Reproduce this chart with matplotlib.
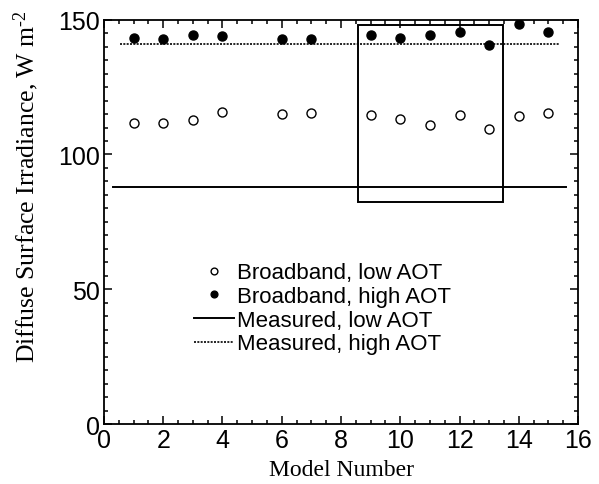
import numpy as np
import matplotlib
matplotlib.use('Agg')
import matplotlib.pyplot as plt
from matplotlib.patches import Rectangle
from matplotlib.ticker import MultipleLocator

plt.rcParams['mathtext.fontset'] = 'custom'
plt.rcParams['mathtext.rm'] = 'Liberation Serif'
plt.rcParams['mathtext.it'] = 'Liberation Serif:italic'

# Modelled diffuse irradiance per model, low and high aerosol optical thickness
models = [1, 2, 3, 4, 6, 7, 9, 10, 11, 12, 13, 14, 15]
low_aot = [111.6, 111.5, 112.7, 115.9, 115.0, 115.4, 114.5, 113.1, 111.0, 114.6, 109.4, 114.3, 115.5]
high_aot = [143.2, 142.8, 144.5, 143.8, 142.8, 142.7, 144.3, 143.3, 144.3, 145.3, 140.7, 148.5, 145.3]

# Measured values drawn as horizontal lines
measured_low = 88.1
measured_high = 141.0
measured_low_span = [0.3, 15.6]
measured_high_span = [0.55, 15.35]

# Highlighted group of models
box_x = [8.57, 13.46]
box_y = [82.4, 148.0]

fig = plt.figure(figsize=(5.99, 4.85), dpi=100)
ax = fig.add_axes([0.1736, 0.1237, 0.7914, 0.8336])

ax.plot(models, low_aot, 'o', mfc='white', mec='black', ms=6.5, mew=1.0,
        label='Broadband, low AOT', zorder=3)
ax.plot(models, high_aot, 'o', mfc='black', mec='black', ms=6.5,
        label='Broadband, high AOT', zorder=3)
ax.plot(measured_low_span, [measured_low, measured_low], '-', color='black',
        lw=1.4, label='Measured, low AOT')
ax.plot(measured_high_span, [measured_high, measured_high], color='black',
        lw=1.2, ls=(0, (1.2, 0.8)), label='Measured, high AOT')

ax.add_patch(Rectangle((box_x[0], box_y[0]), box_x[1] - box_x[0], box_y[1] - box_y[0],
                       fill=False, ec='black', lw=1.4))

ax.set_xlim(0, 16)
ax.set_ylim(0, 150)
ax.xaxis.set_major_locator(MultipleLocator(2))
ax.xaxis.set_minor_locator(MultipleLocator(0.5))
ax.yaxis.set_major_locator(MultipleLocator(50))
ax.yaxis.set_minor_locator(MultipleLocator(5))
ax.tick_params(which='both', direction='in', top=True, right=True, width=1.1)
ax.tick_params(which='major', length=6, pad=3)
ax.tick_params(which='minor', length=3)
for lab in ax.get_xticklabels() + ax.get_yticklabels():
    lab.set_fontfamily('Liberation Sans')
    lab.set_fontsize(18)
for sp in ax.spines.values():
    sp.set_linewidth(1.3)

ax.set_xlabel('Model Number', family='Liberation Serif', fontsize=17, labelpad=5)
ax.set_ylabel('Diffuse Surface Irradiance, W m$^{\\text{-}2}$', family='Liberation Serif',
              fontsize=18.5)
ax.yaxis.set_label_coords(-0.132, 0.59)

handles, labels = ax.get_legend_handles_labels()
leg = fig.legend(handles, labels, loc='upper left', bbox_to_anchor=(0.305, 0.48),
                 frameon=False, borderpad=0, labelspacing=0.12, handlelength=1.8,
                 handletextpad=0.15, markerscale=0.75,
                 prop={'family': 'Liberation Sans', 'size': 16})

fig.savefig('out.png', dpi=100)
